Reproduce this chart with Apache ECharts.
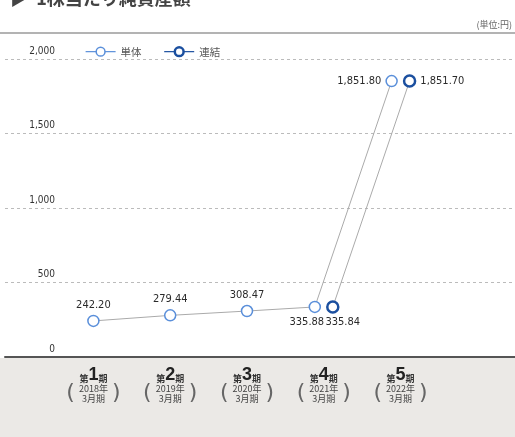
<!DOCTYPE html>
<html><head><meta charset="utf-8">
<script src="https://cdn.jsdelivr.net/npm/echarts@6/dist/echarts.min.js"></script>
<style>html,body{margin:0;padding:0;background:#fff}#c{width:515px;height:437px}</style>
</head><body><div id="c"></div>
<script>
const periods = ['1','2','3','4','5'];
const years = ['2018年','2019年','2020年','2021年','2022年'];
const monthLabel = '3月期';
const tanTai = [242.20, 279.44, 308.47, 335.88, 1851.80];
const renketsu = [null, null, null, 335.84, 1851.70];
const yTicks = [0, 500, 1000, 1500, 2000];

const FONT = '"Noto Sans CJK JP", sans-serif';
const NUMFONT = '"DejaVu Sans Condensed", "Liberation Sans Narrow", sans-serif';
const C_SINGLE = '#5a8fda';
const C_CONS = '#1b4f9f';
const OFF = 0.117;

const bothPresent = i => tanTai[i] != null && renketsu[i] != null;
const singleData = tanTai.map((v, i) => [i + 1 - (bothPresent(i) ? OFF : 0), v]);
const consData = renketsu.map((v, i) => v == null ? null : [i + 1 + (bothPresent(i) ? OFF : 0), v]).filter(d => d);
const fmt = v => v.toLocaleString('en-US', {minimumFractionDigits: 2, maximumFractionDigits: 2});

const singleLabelPos = i => i === tanTai.length - 1 ? 'left' : (bothPresent(i) ? 'bottom' : 'top');

const chart = echarts.init(document.getElementById('c'));
chart.setOption({
  animation: false,
  textStyle: {fontFamily: FONT},
  graphic: [
    {type: 'rect', z: -10, shape: {x: 0, y: 358, width: 515, height: 80}, style: {fill: '#ebe9e6'}},
    {type: 'text', left: 10, top: -11, style: {text: '▶  1株当たり純資産額', font: 'bold 18px ' + FONT, fill: '#444'}},
    {type: 'text', right: 3, top: 20, style: {text: '(単位:円)', font: '9px ' + FONT, fill: '#666'}},
    {type: 'line', shape: {x1: 0, y1: 33, x2: 515, y2: 33}, style: {stroke: '#9a9a9a', lineWidth: 1.5}}
  ],
  legend: {
    left: 80, top: 41, itemWidth: 30, itemHeight: 11, itemGap: 22,
    textStyle: {fontSize: 10.5, color: '#555', fontFamily: FONT, padding: [0, 0, 0, 0]},
    data: [
      {name: '単体', itemStyle: {color: '#fff', borderColor: C_SINGLE, borderWidth: 1.5}, lineStyle: {color: C_SINGLE, width: 1.2}},
      {name: '連結', itemStyle: {color: '#fff', borderColor: C_CONS, borderWidth: 2.5}, lineStyle: {color: C_CONS, width: 1.2}}
    ]
  },
  grid: [
    {left: 5, right: 0, top: 59, bottom: 80},
    {left: 55, width: 384, top: 59, bottom: 80}
  ],
  xAxis: [
    {gridIndex: 0, type: 'value', min: 0, max: 1, show: true,
     axisLine: {show: true, lineStyle: {color: '#555', width: 2}}, axisTick: {show: false}, axisLabel: {show: false}, splitLine: {show: false}},
    {gridIndex: 1, type: 'value', min: 0.5, max: 5.5, show: false},
    {gridIndex: 1, type: 'category', data: periods, position: 'bottom', boundaryGap: true,
     axisLine: {show: false}, axisTick: {show: false},
     axisLabel: {interval: 0, margin: 9, formatter: v => '{s|第}{b|' + v + '}{s|期}',
       rich: {s: {fontSize: 9, color: '#333', fontWeight: 'bold', fontFamily: FONT, verticalAlign: 'bottom', padding: [0, 0, 1, 0]},
              b: {fontSize: 18, color: '#222', fontWeight: 'bold', fontFamily: '"Liberation Sans", sans-serif'}}}},
    {gridIndex: 1, type: 'category', data: years, position: 'bottom', boundaryGap: true,
     axisLine: {show: false}, axisTick: {show: false},
     axisLabel: {interval: 0, margin: 27, fontSize: 9, lineHeight: 10, color: '#444', fontFamily: FONT,
       formatter: v => v + '\n' + monthLabel}},
    {gridIndex: 1, type: 'category', data: years, position: 'bottom', boundaryGap: true,
     axisLine: {show: false}, axisTick: {show: false},
     axisLabel: {interval: 0, margin: 25, formatter: () => '{p|(}{g|}{p|)}',
       rich: {p: {fontSize: 22, lineHeight: 22, color: '#666', fontFamily: '"DejaVu Sans", sans-serif'}, g: {width: 37}}}}
  ],
  yAxis: [
    {gridIndex: 0, type: 'value', min: yTicks[0], max: yTicks[yTicks.length - 1], interval: yTicks[1] - yTicks[0],
     axisLine: {show: false}, axisTick: {show: false},
     splitLine: {lineStyle: {color: '#bbb', type: [3, 3], width: 1}},
     axisLabel: {inside: true, margin: 50, align: 'right', verticalAlign: 'bottom', padding: [0, 0, 3, 0],
       fontSize: 10, color: '#333', fontFamily: NUMFONT,
       formatter: v => v === 0 ? '0' : v.toLocaleString('en-US')}},
    {gridIndex: 1, type: 'value', min: yTicks[0], max: yTicks[yTicks.length - 1], show: false}
  ],
  series: [
    {name: '単体', type: 'line', xAxisIndex: 1, yAxisIndex: 1, z: 3,
     data: singleData.map((d, i) => ({value: d, label: {position: singleLabelPos(i),
        offset: singleLabelPos(i) === 'bottom' ? [-8, -1] : [0, 0]}})),
     symbol: 'circle', symbolSize: 11,
     itemStyle: {color: '#fff', borderColor: C_SINGLE, borderWidth: 1.5},
     lineStyle: {color: '#aaa', width: 1},
     label: {show: true, formatter: p => fmt(p.value[1]), fontSize: 11, color: '#2a2a2a', fontFamily: NUMFONT, distance: 4}},
    {name: '連結', type: 'line', xAxisIndex: 1, yAxisIndex: 1, z: 4,
     data: consData.map((d, i) => ({value: d, label: {position: i === consData.length - 1 ? 'right' : 'bottom',
        offset: i === consData.length - 1 ? [0, 0] : [10, -1]}})),
     symbol: 'circle', symbolSize: 11,
     itemStyle: {color: '#fff', borderColor: C_CONS, borderWidth: 2.5},
     lineStyle: {color: '#aaa', width: 1},
     label: {show: true, formatter: p => fmt(p.value[1]), fontSize: 11, color: '#2a2a2a', fontFamily: NUMFONT, distance: 4}}
  ]
});
</script></body></html>
